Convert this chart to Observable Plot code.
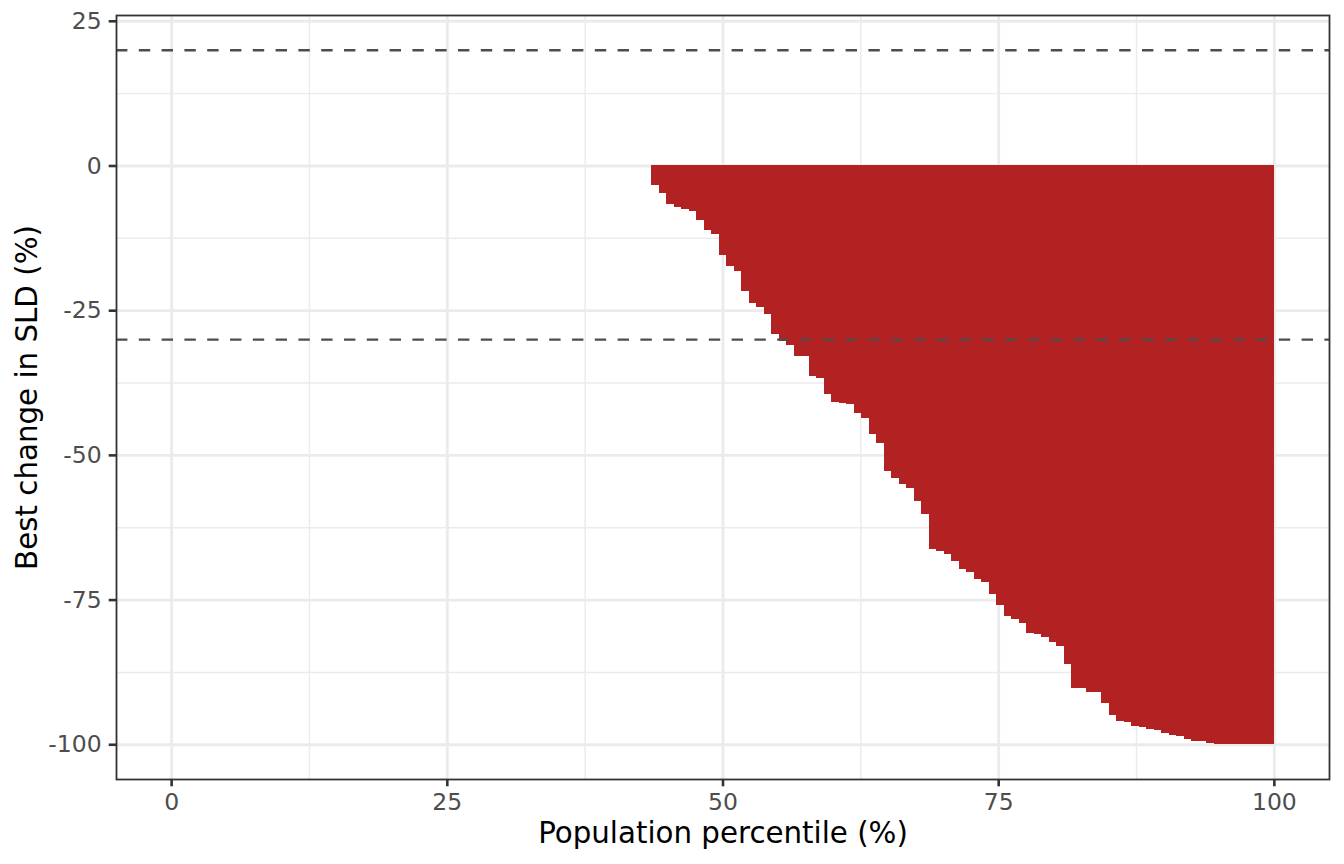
<!DOCTYPE html>
<html>
<head>
<meta charset="utf-8">
<script src="https://cdn.jsdelivr.net/npm/d3@7"></script>
<script src="https://cdn.jsdelivr.net/npm/@observablehq/plot@0.6"></script>
<style>
  html, body { margin: 0; padding: 0; background: #ffffff; }
  #chart { width: 1344px; height: 864px; }
</style>
</head>
<body>
<div id="chart"></div>
<script>
// ---- data ----
const totalPatients = 147;          // population size
const patientsWithoutShrinkage = 64; // patients left of the first bar
// best change in SLD (%) of the shrinking patients, sorted
const bestChange = [
  -3.4, -4.8, -6.6, -7.1, -7.6, -7.8, -9.5, -11.2, -11.9, -15.5,
  -17.4, -18.3, -21.7, -23.8, -24.5, -25.7, -29.1, -30.3, -31.0, -33.0,
  -33.0, -36.4, -36.7, -39.5, -40.8, -41.0, -41.2, -42.8, -43.6, -46.4,
  -47.9, -52.8, -54.0, -55.0, -55.7, -57.9, -60.2, -66.2, -66.6, -67.2,
  -68.4, -69.7, -70.2, -71.4, -71.9, -74.0, -75.9, -77.8, -78.4, -79.1,
  -80.7, -80.9, -81.4, -82.4, -83.1, -86.2, -90.2, -90.3, -90.9, -90.9,
  -92.9, -95.0, -95.9, -96.2, -96.9, -97.1, -97.4, -97.6, -98.1, -98.4,
  -98.6, -99.1, -99.5, -99.5, -99.8, -100, -100, -100, -100, -100,
  -100, -100, -100
];
const referenceLines = [20, -30];
const xTicks = [0, 25, 50, 75, 100];
const xMinor = [12.5, 37.5, 62.5, 87.5];
const yTicks = [25, 0, -25, -50, -75, -100];
const yMinor = [12.5, -12.5, -37.5, -62.5, -87.5];
const xTitle = "Population percentile (%)";
const yTitle = "Best change in SLD (%)";

// ---- table for the bars ----
const bars = bestChange.map((v, i) => ({
  x1: (patientsWithoutShrinkage + i) / totalPatients * 100,
  x2: (patientsWithoutShrinkage + i + 1) / totalPatients * 100,
  value: v
}));

const fmt = d => (d < 0 ? "-" + Math.abs(d) : String(d));

const chart = Plot.plot({
  width: 1344,
  height: 864,
  marginLeft: 116,
  marginRight: 15,
  marginTop: 15,
  marginBottom: 85,
  style: { fontFamily: "DejaVu Sans", background: "#ffffff" },
  x: { domain: [-5, 105] },
  y: { domain: [-106, 26] },
  marks: [
    Plot.ruleX(xMinor, { stroke: "#EBEBEB", strokeWidth: 1.42 }),
    Plot.ruleY(yMinor, { stroke: "#EBEBEB", strokeWidth: 1.42 }),
    Plot.ruleX(xTicks, { stroke: "#EBEBEB", strokeWidth: 2.84 }),
    Plot.ruleY(yTicks, { stroke: "#EBEBEB", strokeWidth: 2.84 }),
    Plot.rectY(bars, { x1: "x1", x2: "x2", y1: 0, y2: "value", fill: "#B22222", shapeRendering: "crispEdges" }),
    Plot.ruleY(referenceLines, { stroke: "#4D4D4D", strokeWidth: 2.4, strokeDasharray: "11.4,11.4" }),
    Plot.frame({ stroke: "#333333", strokeWidth: 1.8 }),
    Plot.axisX(xTicks, {
      tickSize: 7.3, tickPadding: 7, stroke: "#333333", strokeWidth: 2.6,
      fill: "#4D4D4D", fontSize: 23.5, tickFormat: fmt, label: null
    }),
    Plot.axisY(yTicks, {
      tickSize: 7.3, tickPadding: 7.5, stroke: "#333333", strokeWidth: 2.6,
      fill: "#4D4D4D", fontSize: 23.5, tickFormat: fmt, label: null
    }),
    Plot.text([xTitle], {
      text: d => d, frameAnchor: "bottom", lineAnchor: "middle",
      dy: 54.6, fontSize: 29.3, fill: "#000000"
    }),
    Plot.text([yTitle], {
      text: d => d, frameAnchor: "left", textAnchor: "middle", lineAnchor: "middle", rotate: -90,
      dx: -88.4, fontSize: 29.3, fill: "#000000"
    })
  ]
});

document.getElementById("chart").appendChild(chart);
</script>
</body>
</html>
